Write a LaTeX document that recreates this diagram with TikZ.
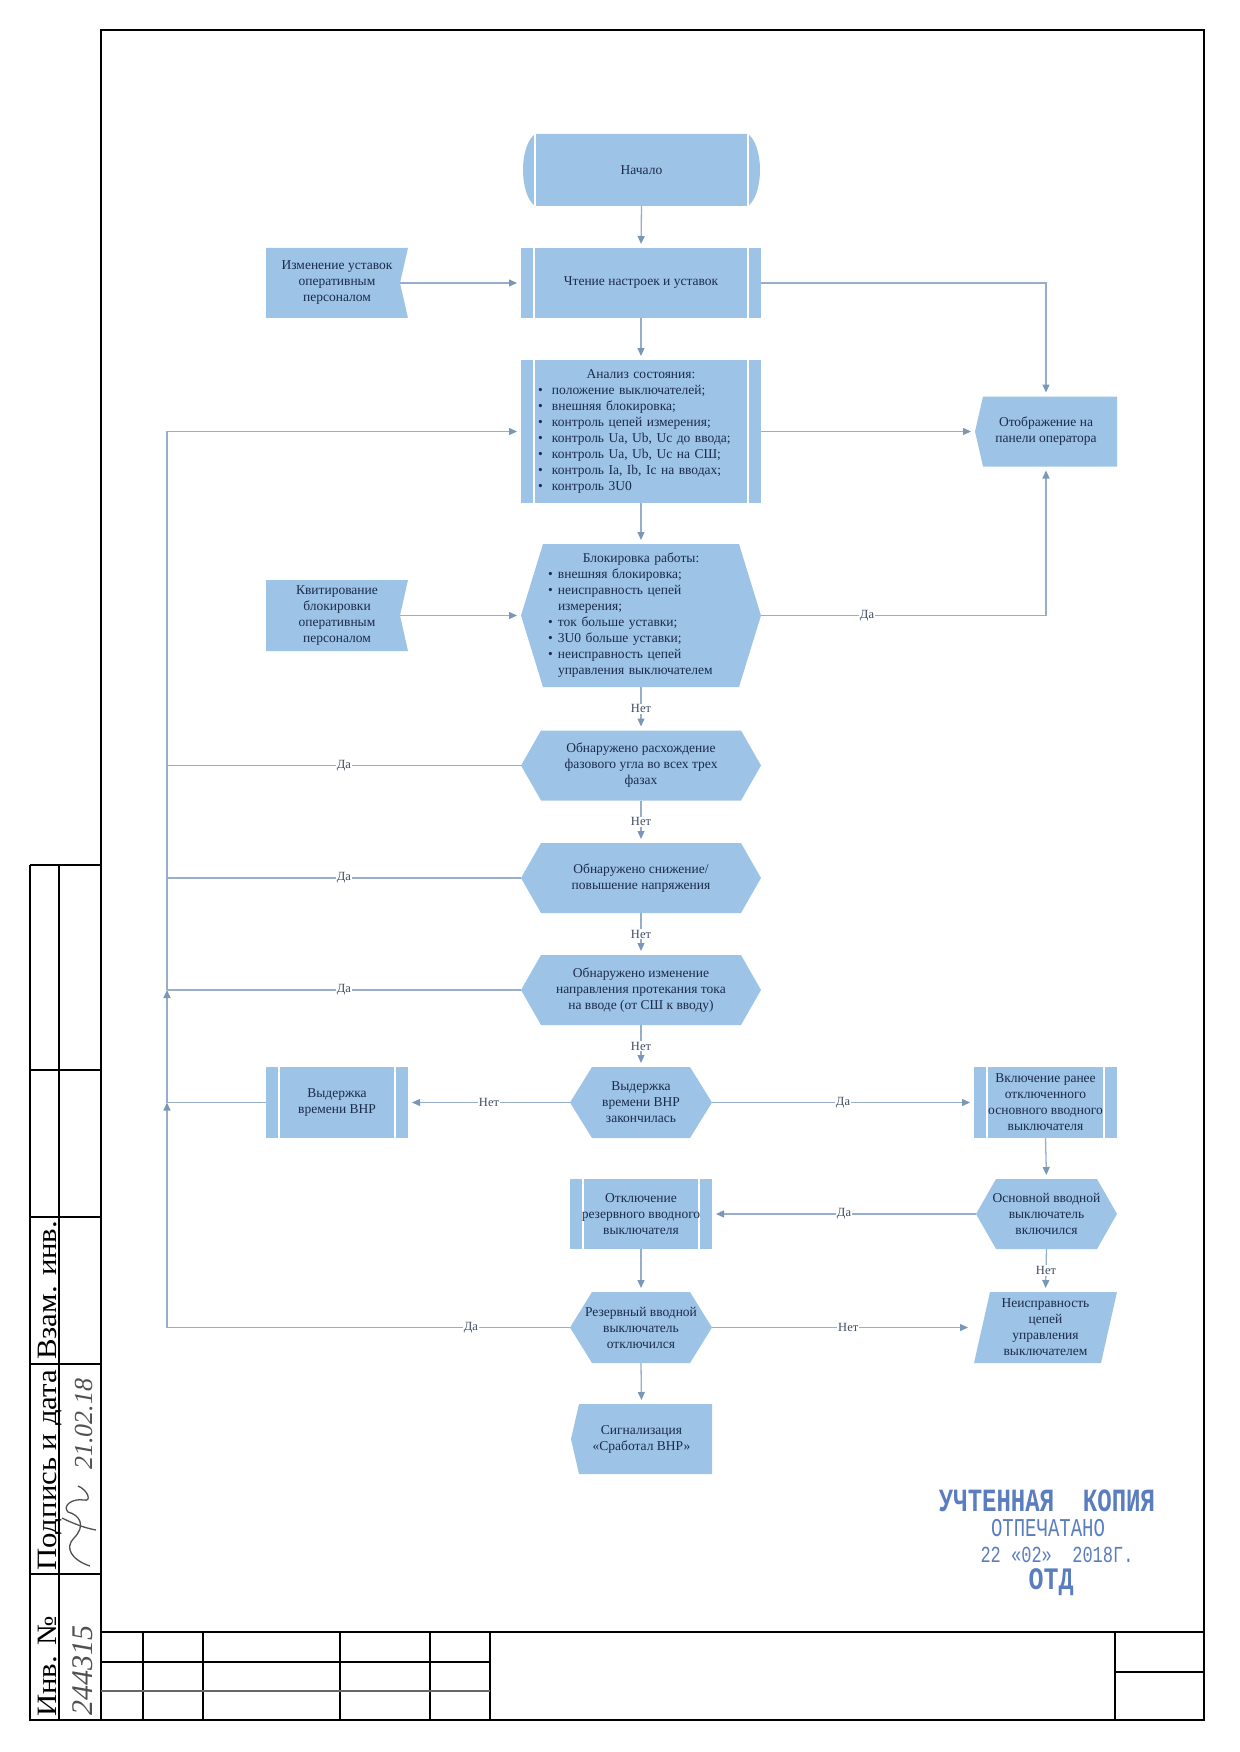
\documentclass[tikz,border=0pt]{standalone}
\usepackage{fontspec}
\setmainfont{Liberation Serif}
\newfontfamily\stampfont{Liberation Mono}
\usepackage{graphicx}
\usetikzlibrary{arrows.meta,backgrounds}
\definecolor{boxblue}{HTML}{9DC3E6}
\definecolor{txtc}{HTML}{1C2B4A}
\definecolor{linec}{HTML}{97AECA}
\definecolor{arrc}{HTML}{7B97B8}
\definecolor{stampc}{HTML}{5A7DBF}
\definecolor{handc}{HTML}{505050}
\newcommand\bulA{\makebox[14pt][l]{•}}
\newcommand\bulB{\makebox[10pt][l]{•}}
\newcommand\shProc[1]{%
  \fill[boxblue] (#1.south west) rectangle (#1.north east);
  \draw[white, line width=1.5pt] ([xshift=13pt]#1.south west) -- ([xshift=13pt]#1.north west);
  \draw[white, line width=1.5pt] ([xshift=-13pt]#1.south east) -- ([xshift=-13pt]#1.north east);}
\newcommand\shTerm[1]{%
  \fill[boxblue] ([xshift=12pt]#1.north west) -- ([xshift=-12pt]#1.north east)
    .. controls ([xshift=4pt,yshift=-12pt]#1.north east) and ([xshift=4pt,yshift=12pt]#1.south east) .. ([xshift=-12pt]#1.south east)
    -- ([xshift=12pt]#1.south west)
    .. controls ([xshift=-4pt,yshift=12pt]#1.south west) and ([xshift=-4pt,yshift=-12pt]#1.north west) .. cycle;
  \draw[white, line width=1.5pt] ([xshift=12pt]#1.south west) -- ([xshift=12pt]#1.north west);
  \draw[white, line width=1.5pt] ([xshift=-12pt]#1.south east) -- ([xshift=-12pt]#1.north east);}
\newcommand\shHex[2]{%
  \fill[boxblue] (#1.west) -- ([xshift=#2]#1.north west) -- ([xshift=-#2]#1.north east) -- (#1.east)
    -- ([xshift=-#2]#1.south east) -- ([xshift=#2]#1.south west) -- cycle;}
\newcommand\shNotch[1]{%
  \fill[boxblue] (#1.south west) -- (#1.north west) -- (#1.north east) -- ([xshift=-8pt]#1.east) -- (#1.south east) -- cycle;}
\newcommand\shDisp[1]{%
  \fill[boxblue] (#1.west) -- ([xshift=8pt]#1.north west) -- (#1.north east) -- (#1.south east) -- ([xshift=8pt]#1.south west) -- cycle;}
\newcommand\shPara[1]{%
  \fill[boxblue] (#1.south west) -- ([xshift=16pt]#1.north west) -- (#1.north east) -- ([xshift=-16pt]#1.south east) -- cycle;}
\begin{document}
\begin{tikzpicture}[x=1pt,y=-1pt,
  box/.style={rectangle, inner sep=0pt, outer sep=0pt, text=txtc, align=center, font=\fontsize{13.5}{16}\selectfont},
  line/.style={draw=linec, line width=1.3pt},
  arr/.style={line, -{Triangle[length=8pt,width=7pt,color=arrc,fill=arrc]}, shorten >=4pt},
  arrz/.style={arr, shorten >=0pt},
  lbl/.style={fill=white, inner sep=1pt, text=txtc!85, font=\fontsize{12.5}{14}\selectfont},
  frame/.style={draw=black, line width=2.6pt},
  tline/.style={draw=black, line width=1.8pt},
  strip/.style={rotate=90, anchor=base west, inner sep=0pt, font=\fontsize{28}{30}\selectfont},
  hand/.style={rotate=90, anchor=base west, inner sep=0pt, text=handc, font=\itshape\fontsize{30}{32}\selectfont},
  stamp/.style={inner sep=0pt, text=stampc},
]
\useasboundingbox (0,0) rectangle (1239,1752);

% ---------- nodes ----------
\node[box, minimum width=237, minimum height=72] (nach) at (641.5,170) {Начало};
\node[box, minimum width=240, minimum height=70] (cht) at (641,283) {Чтение настроек и уставок};
\node[box, minimum width=142, minimum height=70] (izm) at (337,283) {Изменение уставок\\оперативным\\персоналом};
\node[box, minimum width=240, minimum height=143, text width=206, align=left] (ana) at (641,431.5)
  {{\centering Анализ состояния:\par}
   \bulA положение выключателей;\par
   \bulA внешняя блокировка;\par
   \bulA контроль цепей измерения;\par
   \bulA контроль Ua, Ub, Uc до ввода;\par
   \bulA контроль Ua, Ub, Uc на СШ;\par
   \bulA контроль Ia, Ib, Ic на вводах;\par
   \bulA контроль 3U0};
\node[box, minimum width=142, minimum height=70] (otob) at (1046,431.5) {Отображение на\\панели оператора};
\node[box, minimum width=240, minimum height=143, text width=186, align=left] (blk) at (641,615.5)
  {{\centering Блокировка работы:\par}
   \bulB внешняя блокировка;\par
   \bulB неисправность цепей\par
   \hspace*{10pt}измерения;\par
   \bulB ток больше уставки;\par
   \bulB 3U0 больше уставки;\par
   \bulB неисправность цепей\par
   \hspace*{10pt}управления выключателем};
\node[box, minimum width=142, minimum height=71] (kvit) at (337,615.5) {Квитирование\\блокировки\\оперативным\\персоналом};
\node[box, minimum width=240, minimum height=70] (h1) at (641,765.5) {Обнаружено расхождение\\фазового угла во всех трех\\фазах};
\node[box, minimum width=240, minimum height=70] (h2) at (641,878) {Обнаружено снижение/\\повышение напряжения};
\node[box, minimum width=240, minimum height=70] (h3) at (641,990) {Обнаружено изменение\\направления протекания тока\\на вводе (от СШ к вводу)};
\node[box, minimum width=142, minimum height=71] (vydh) at (641,1102.5) {Выдержка\\времени ВНР\\закончилась};
\node[box, minimum width=142, minimum height=71] (vydb) at (337,1102.5) {Выдержка\\времени ВНР};
\node[box, minimum width=143, minimum height=71] (vkl) at (1045.5,1102.5) {Включение ранее\\отключенного\\основного вводного\\выключателя};
\node[box, minimum width=141, minimum height=70] (osn) at (1046.5,1214) {Основной вводной\\выключатель\\включился};
\node[box, minimum width=142, minimum height=70] (otk) at (641,1214) {Отключение\\резервного вводного\\выключателя};
\node[box, minimum width=142, minimum height=71] (rez) at (641,1327.5) {Резервный вводной\\выключатель\\отключился};
\node[box, minimum width=143, minimum height=71] (neisp) at (1045.5,1327.5) {Неисправность\\цепей\\управления\\выключателем};
\node[box, minimum width=141, minimum height=70] (sig) at (641.5,1439) {Сигнализация\\«Сработал ВНР»};

% ---------- shape fills ----------
\begin{scope}[on background layer]
  \shTerm{nach}
  \shProc{cht} \shProc{ana} \shProc{vydb} \shProc{vkl} \shProc{otk}
  \shNotch{izm} \shNotch{kvit}
  \shHex{blk}{22pt} \shHex{h1}{20pt} \shHex{h2}{20pt} \shHex{h3}{20pt}
  \shHex{vydh}{22pt} \shHex{osn}{20pt} \shHex{rez}{22pt}
  \shDisp{otob} \shDisp{sig}
  \shPara{neisp}
\end{scope}

% ---------- loop coordinates ----------
\coordinate (Lana) at (167,431.5);
\coordinate (Lh1) at (167,765.5);
\coordinate (Lh2) at (167,878);
\coordinate (Lh3) at (167,990);
\coordinate (Lvyd) at (167,1102.5);
\coordinate (Lrez) at (167,1327.5);

% ---------- connectors ----------
\draw[arr] (nach.south) -- (cht.north);
\draw[arr] ([xshift=-8pt]izm.east) -- (cht.west);
\draw[arr] (cht.south) -- (ana.north);
\draw[arr] (cht.east) -| (otob.north);
\draw[arr] (ana.east) -- (otob.west);
\draw[arr] (ana.south) -- (blk.north);
\draw[arr] ([xshift=-8pt]kvit.east) -- (blk.west);
\draw[arr] (blk.east) -| node[lbl, pos=0.186] (lbA) {Да} (otob.south);
\draw[arr] (blk.south) -- node[lbl] (lbB) {Нет} (h1.north);
\draw[arr] (h1.south) -- node[lbl] (lbC) {Нет} (h2.north);
\draw[arr] (h2.south) -- node[lbl] (lbD) {Нет} (h3.north);
\draw[arr] (h3.south) -- node[lbl] (lbE) {Нет} (vydh.north);
\draw[arr] (vydh.west) -- node[lbl] (lbF) {Нет} (vydb.east);
\draw[arr] (vydh.east) -- node[lbl] (lbG) {Да} (vkl.west);
\draw[arr] (vkl.south) -- (osn.north);
\draw[arr] (osn.west) -- node[lbl] (lbH) {Да} (otk.east);
\draw[arr] (osn.south) -- node[lbl] (lbI) {Нет} (neisp.north);
\draw[arr] (otk.south) -- (rez.north);
\draw[arr, shorten >=6pt] (rez.east) -- node[lbl, pos=0.52] (lbJ) {Нет} (neisp.west);
\draw[arr] (rez.south) -- (sig.north);

\draw[line] (rez.west) -- node[lbl, pos=0.246] (lbK) {Да} (Lrez);
\draw[arrz] (Lrez) -- (Lvyd);
\draw[line] (vydb.west) -- (Lvyd);
\draw[arrz] (Lvyd) -- (Lh3);
\draw[line] (h3.west) -- node[lbl] (lbL) {Да} (Lh3);
\draw[line] (h2.west) -- node[lbl] (lbM) {Да} (Lh2);
\draw[line] (h1.west) -- node[lbl] (lbN) {Да} (Lh1);
\draw[arr] (Lh3) -- (Lana) -- (ana.west);

% ---------- frame ----------
\draw[frame] (101,30) rectangle (1204,1720);
% left strip
\draw[frame] (30,865) -- (30,1720) -- (101,1720);
\draw[tline] (59,865) -- (59,1720);
\foreach \yy in {865,1070,1217,1364,1574}{\draw[frame] (30,\yy) -- (101,\yy);}
\node[strip] (s1) at (56,1360) {\scalebox{1.1}[1]{Взам. инв.}};
\node[strip] (s2) at (56,1571) {\scalebox{1.1}[1]{Подпись и дата}};
\node[strip] (s3) at (56,1717) {\scalebox{1.1}[1]{Инв. №}};
\node[hand] (hw1) at (92,1716) {244315};
\node[hand, font=\itshape\fontsize{26}{28}\selectfont] (hw2) at (92,1470) {21.02.18};
\draw[handc, line width=1.3pt] (90,1566) .. controls (72,1560) and (64,1548) .. (74,1538)
  .. controls (86,1526) and (80,1515) .. (68,1512) .. controls (62,1506) and (72,1498) .. (84,1500)
  .. controls (92,1502) and (88,1490) .. (78,1486);
\draw[handc, line width=1.3pt] (96,1530) .. controls (84,1528) and (70,1522) .. (62,1518);

% title block
\draw[frame] (101,1632) -- (1204,1632);
\foreach \xx in {143,203,340,430}{\draw[tline] (\xx,1632) -- (\xx,1720);}
\draw[frame] (490,1632) -- (490,1720);
\draw[frame] (1115,1632) -- (1115,1720);
\draw[tline] (101,1662) -- (490,1662);
\draw[draw=black!60, line width=1.8pt] (101,1691) -- (490,1691);
\draw[frame] (1115,1672) -- (1204,1672);

% stamp
\node[stamp, font=\stampfont\bfseries\fontsize{24}{26}\selectfont] (st1) at (1047,1501) {\scalebox{1}[1.35]{УЧТЕННАЯ\ \ КОПИЯ}};
\node[stamp, font=\stampfont\fontsize{19}{21}\selectfont] (st2) at (1048,1528) {\scalebox{1}[1.35]{ОТПЕЧАТАНО}};
\node[stamp, font=\stampfont\fontsize{17}{19}\selectfont] (st3) at (1057,1555) {\scalebox{1}[1.35]{22 «02»\ \ 2018Г.}};
\node[stamp, font=\stampfont\bfseries\fontsize{25}{27}\selectfont] (st4) at (1051,1582) {\scalebox{1}[1.25]{ОТД}};
\end{tikzpicture}
\end{document}
